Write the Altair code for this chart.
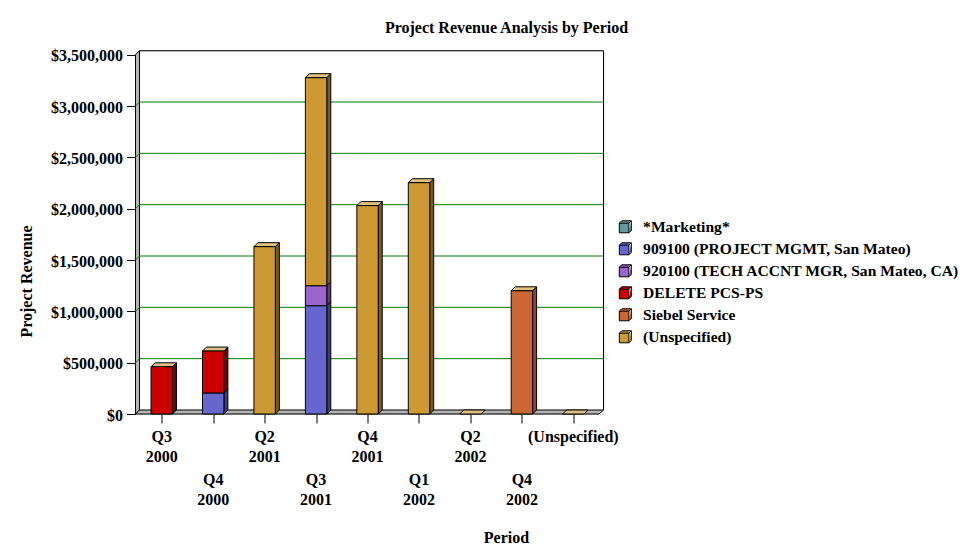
import altair as alt
import pandas as pd

periods = ["Q3\n2000", "Q4\n2000", "Q2\n2001", "Q3\n2001", "Q4\n2001", "Q1\n2002", "Q2\n2002", "Q4\n2002", "(Unspecified)"]
series = ["*Marketing*", "909100 (PROJECT MGMT, San Mateo)", "920100 (TECH ACCNT MGR, San Mateo, CA)",
          "DELETE PCS-PS", "Siebel Service", "(Unspecified)"]
colors = ["#669999", "#6666CC", "#9966CC", "#CC0000", "#CC6633", "#CC9933"]
sides = ["#3D5C5C", "#3D3D7A", "#5C3D7A", "#7A0000", "#8F4724", "#7A5C1F"]
TOP = "#E0C080"

marketing = [0, 0, 0, 0, 0, 0, 0, 0, 0]
mgmt = [0, 205000, 0, 1055000, 0, 0, 0, 0, 0]
tech = [0, 0, 0, 195000, 0, 0, 0, 0, 0]
delete = [460000, 408000, 0, 0, 0, 0, 0, 0, 0]
siebel = [0, 0, 0, 0, 0, 0, 0, 1200000, 0]
unspec = [0, 0, 1630000, 2026000, 2030000, 2253000, 0, 0, 0]
values = [marketing, mgmt, tech, delete, siebel, unspec]
ticks = [0, 500000, 1000000, 1500000, 2000000, 2500000, 3000000, 3500000]

PX = 51.45                 # one category in pixels
W, H = 468, 363
XMAX = W / PX
YMAX = H / 102.66e-6
DX = 4 / PX                # 3-D depth, x units
DY = 4 / 102.66e-6         # 3-D depth, y units
HALF = 10.7 / PX
XEND = 463.5 / PX
CENTER = 0.51

fronts, side_rows, top_rows = [], [], []
for i in range(len(periods)):
    c = i + CENTER
    base = 0
    for s, vals in enumerate(values):
        v = vals[i]
        if v == 0:
            continue
        fronts.append(dict(x=c - HALF, x2=c + HALF, y=base, y2=base + v, series=series[s]))
        side_rows.append(dict(id=f"{i}-{s}", fill=sides[s], x=c + HALF, y=base, y2=base + v))
        side_rows.append(dict(id=f"{i}-{s}", fill=sides[s], x=c + HALF + DX, y=base + DY, y2=base + v + DY))
        base += v
    top_rows.append(dict(id=i, y=base, x=c - HALF, x2=c + HALF))
    top_rows.append(dict(id=i, y=base + DY, x=c - HALF + DX, x2=c + HALF + DX))

grid_rows = []
for v in ticks[1:-1]:
    grid_rows += [dict(id=v, x=0, y=v), dict(id=v, x=DX, y=v + DY), dict(id=v, x=XMAX, y=v + DY)]

top_v = ticks[-1]
wall = pd.DataFrame([dict(x=0, y=0, y2=top_v), dict(x=DX, y=DY, y2=top_v + DY)])
floor = pd.DataFrame([dict(y=0, x=0, x2=XEND), dict(y=DY, x=DX, x2=XMAX)])
back = pd.DataFrame([dict(o=0, x=DX, y=top_v + DY), dict(o=1, x=XMAX, y=top_v + DY), dict(o=2, x=XMAX, y=DY)])
labels = pd.DataFrame([dict(x=i + CENTER, text=p, row=i % 2) for i, p in enumerate(periods)])

FONT = "Liberation Serif"
FS = 16
xs = alt.Scale(domain=[0, XMAX], nice=False, zero=False)
ys = alt.Scale(domain=[0, YMAX], nice=False)
x_axis = alt.Axis(
    values=[i + CENTER for i in range(len(periods))], labels=False, domain=False, grid=False,
    tickSize=9, tickColor="black", title="Period", titleFont=FONT, titleFontSize=FS,
    titleFontWeight="bold", titleX=370.5, titleY=115, titleColor="black")
y_axis = alt.Axis(
    values=ticks, format="$,.0f", domain=False, grid=False, tickSize=9, tickColor="black",
    labelFont=FONT, labelFontSize=FS, labelFontWeight="bold", labelColor="black", labelPadding=4,
    labelOffset=1, title="Project Revenue", titleFont=FONT, titleFontSize=FS, titleFontWeight="bold",
    titleColor="black", titleX=-101, titleY=230)
X = alt.X("x:Q", scale=xs, axis=x_axis)
Y = alt.Y("y:Q", scale=ys, axis=y_axis, stack=None)
no_scale = alt.Fill("fill:N", scale=None, legend=None)

wall_layer = alt.Chart(wall).mark_area(fill="#B4B4B4", stroke="black", strokeWidth=1).encode(x=X, y=Y, y2="y2:Q")
back_layer = alt.Chart(back).mark_line(color="black", strokeWidth=1).encode(x=X, y=Y, order="o:Q")
grid_layer = alt.Chart(pd.DataFrame(grid_rows)).mark_line(color="#007F00", strokeWidth=1).encode(x=X, y=Y, detail="id:N")
floor_layer = alt.Chart(floor).mark_area(orient="horizontal", fill="#B4B4B4", stroke="black", strokeWidth=1).encode(
    y=Y, x=X, x2="x2:Q")
side_layer = alt.Chart(pd.DataFrame(side_rows)).mark_area(stroke="black", strokeWidth=1).encode(
    x=X, y=Y, y2="y2:Q", detail="id:N", fill=no_scale)
top_layer = alt.Chart(pd.DataFrame(top_rows)).mark_area(orient="horizontal", fill=TOP, stroke="black", strokeWidth=1).encode(
    y=Y, x=X, x2="x2:Q", detail="id:N")
cube = "M-1,-0.6H0.6V1H-1ZM-1,-0.6L-0.6,-1H1L0.6,-0.6M0.6,1L1,0.6V-1"
front_layer = alt.Chart(pd.DataFrame(fronts)).mark_rect(stroke="black", strokeWidth=1).encode(
    x=X, x2="x2:Q", y=Y, y2="y2:Q",
    color=alt.Color("series:N", scale=alt.Scale(domain=series, range=colors), legend=alt.Legend(
        title=None, orient="none", legendX=482, legendY=168, symbolType=cube, symbolSize=144,
        symbolStrokeColor="black", symbolStrokeWidth=1, labelFont=FONT, labelFontSize=15.6,
        labelFontWeight="bold", labelColor="black", labelLimit=400, rowPadding=4, labelOffset=10)),
)
lab_y = alt.Y("y0:Q", scale=ys, axis=y_axis)
lab_a = alt.Chart(labels[labels.row == 0].assign(y0=0)).mark_text(
    font=FONT, fontSize=FS, fontWeight="bold", color="black", lineBreak="\n", lineHeight=20,
    baseline="top", dy=15).encode(x=X, y=lab_y, text="text:N")
lab_b = alt.Chart(labels[labels.row == 1].assign(y0=0)).mark_text(
    font=FONT, fontSize=FS, fontWeight="bold", color="black", lineBreak="\n", lineHeight=20,
    baseline="top", dy=58).encode(x=X, y=lab_y, text="text:N")

chart = alt.layer(wall_layer, back_layer, grid_layer, floor_layer, side_layer, top_layer, front_layer, lab_a, lab_b).properties(
    width=W, height=H,
    padding={"left": 127.5, "top": 43, "right": 355.5, "bottom": 132},
    autosize=alt.AutoSizeParams(type="none"),
    title=alt.TitleParams("Project Revenue Analysis by Period", font=FONT, fontSize=FS, fontWeight="bold",
                          color="black", anchor="middle", dx=137, offset=12),
).configure_view(stroke=None).configure(background="white")

chart.save("out.html", embed_options={"renderer": "svg", "actions": False})
